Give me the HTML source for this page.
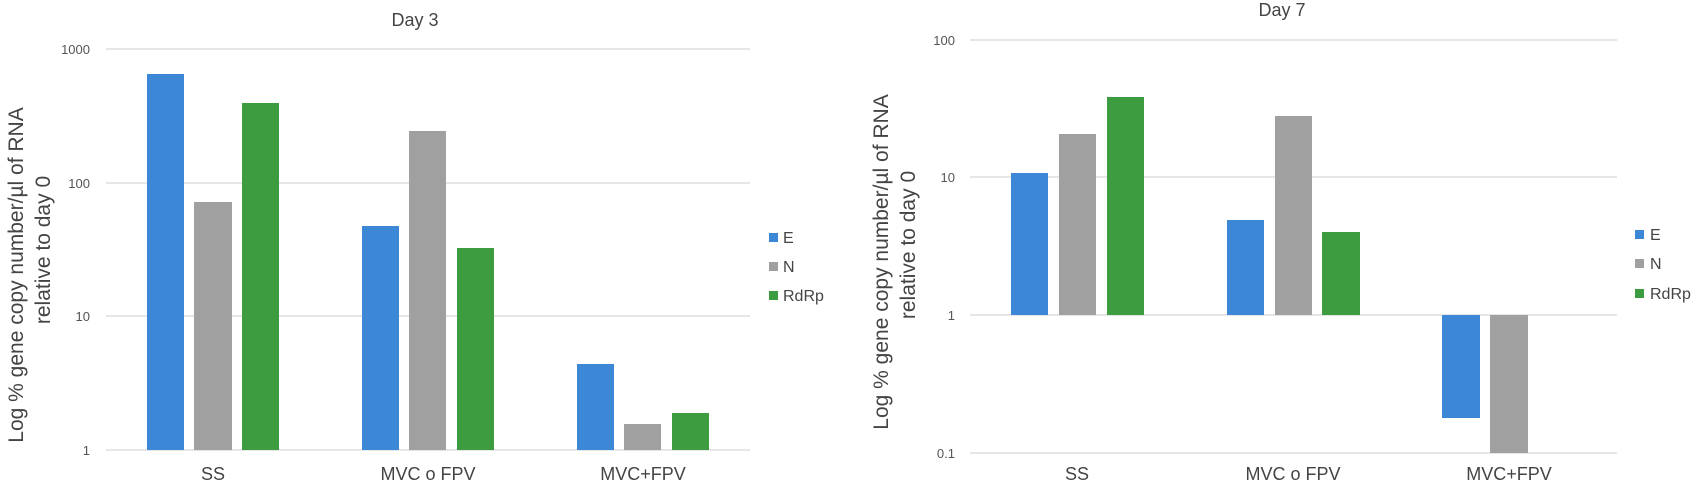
<!DOCTYPE html><html><head><style>body{margin:0;background:#fff}svg{font-family:"Liberation Sans",sans-serif}</style></head><body>
<svg width="1701" height="493" viewBox="0 0 1701 493">
<g stroke="#e6e6e6" stroke-width="2">
<line x1="106" y1="49" x2="750" y2="49"/><line x1="106" y1="183" x2="750" y2="183"/><line x1="106" y1="316" x2="750" y2="316"/><line x1="106" y1="450" x2="750" y2="450"/>
<line x1="970" y1="40" x2="1617" y2="40"/><line x1="970" y1="177" x2="1617" y2="177"/><line x1="970" y1="315" x2="1617" y2="315"/><line x1="970" y1="453" x2="1617" y2="453"/>
</g>
<g fill="#3c87d6"><rect x="147" y="74" width="37" height="376"/><rect x="362" y="226" width="37" height="224"/><rect x="577" y="364" width="37" height="86"/>
<rect x="1011" y="173" width="37" height="142"/><rect x="1227" y="220" width="37" height="95"/><rect x="1442" y="315" width="38" height="103"/>
<rect x="769" y="233" width="9" height="9"/><rect x="1635" y="230" width="9" height="9"/></g>
<g fill="#a0a0a0"><rect x="194" y="202" width="38" height="248"/><rect x="409" y="131" width="37" height="319"/><rect x="624" y="424" width="37" height="26"/>
<rect x="1059" y="134" width="37" height="181"/><rect x="1275" y="116" width="37" height="199"/><rect x="1490" y="315" width="38" height="138"/>
<rect x="769" y="262" width="9" height="9"/><rect x="1635" y="259" width="9" height="9"/></g>
<g fill="#3d9c3f"><rect x="242" y="103" width="37" height="347"/><rect x="457" y="248" width="37" height="202"/><rect x="672" y="413" width="37" height="37"/>
<rect x="1107" y="97" width="37" height="218"/><rect x="1322" y="232" width="38" height="83"/>
<rect x="769" y="291" width="9" height="9"/><rect x="1635" y="289" width="9" height="9"/></g>
<g fill="#444" font-size="16">
<text x="783" y="243">E</text><text x="783" y="272">N</text><text x="783" y="301">RdRp</text>
<text x="1650" y="240">E</text><text x="1650" y="269">N</text><text x="1650" y="299">RdRp</text>
</g>
<g fill="#555" font-size="13" text-anchor="end">
<text x="90" y="54">1000</text><text x="90" y="188">100</text><text x="90" y="321">10</text><text x="90" y="455">1</text>
<text x="955" y="45">100</text><text x="955" y="182">10</text><text x="955" y="320">1</text><text x="955" y="458">0.1</text>
</g>
<g fill="#444" font-size="18" text-anchor="middle">
<text x="415" y="26">Day 3</text><text x="1282" y="16">Day 7</text>
<text x="213" y="480">SS</text><text x="428" y="480">MVC o FPV</text><text x="643" y="480">MVC+FPV</text>
<text x="1077" y="480">SS</text><text x="1293" y="480">MVC o FPV</text><text x="1509" y="480">MVC+FPV</text>
</g>
<g fill="#444" font-size="21" text-anchor="middle">
<text transform="translate(23,275) rotate(-90)">Log % gene copy number/µl  of RNA</text>
<text transform="translate(50,250) rotate(-90)">relative to day 0</text>
<text transform="translate(888,262) rotate(-90)">Log % gene copy number/µl  of RNA</text>
<text transform="translate(915,245) rotate(-90)">relative to day 0</text>
</g>
</svg></body></html>
